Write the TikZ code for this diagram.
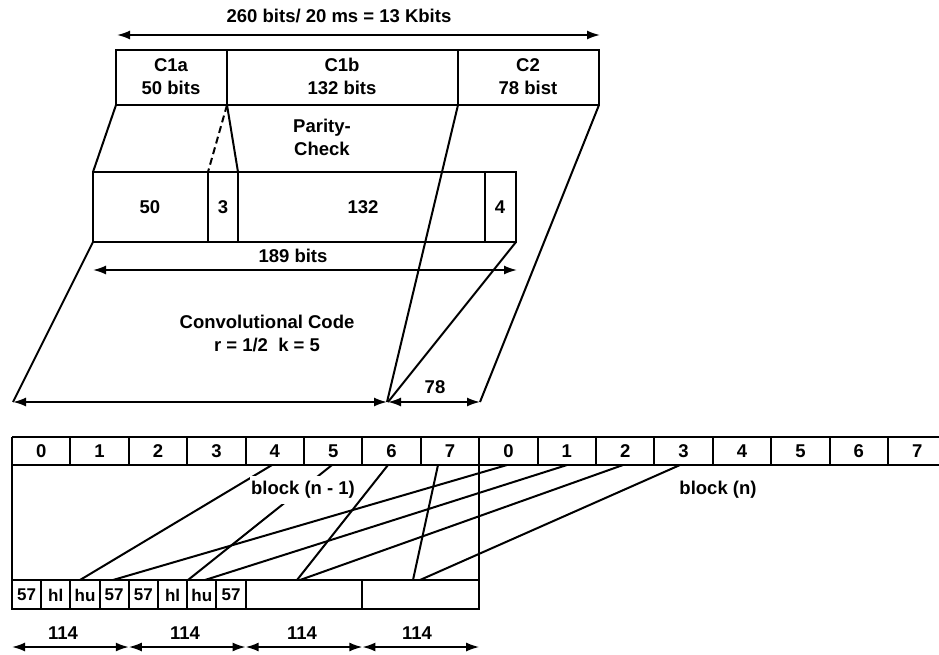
\documentclass[tikz,border=0pt]{standalone}
\usepackage{fontspec}
\setmainfont{Liberation Sans}
\usetikzlibrary{arrows.meta}
\begin{document}
\begin{tikzpicture}[x=1pt,y=-1pt, line width=2pt,
  lbl/.style={font=\fontsize{18.5}{23}\selectfont\bfseries, inner sep=1pt, align=center},
  small/.style={font=\fontsize{17}{18}\selectfont\bfseries, inner sep=0pt},
  dimarrow/.style={{Latex[length=13pt,width=9pt]}-{Latex[length=13pt,width=9pt]}, line width=1.8pt}]
\useasboundingbox (0,0) rectangle (939,654);
% ---- top frame ----
\coordinate (tA) at (117,35); \coordinate (tB) at (600,35);
\draw[dimarrow] (tA) -- (tB);
\node[lbl] (ttl) at (339,16) {260 bits/ 20 ms = 13 Kbits};
\coordinate (f1) at (116,50); \coordinate (f2) at (599,105);
\draw (f1) rectangle (f2);
\coordinate (fa) at (227,105); \coordinate (fb) at (458,105);
\draw (227,50) -- (fa); \draw (458,50) -- (fb);
\node[lbl] (c1a) at (171,78) {\strut C1a\\\strut 50 bits};
\node[lbl] (c1b) at (342,78) {\strut C1b\\\strut 132 bits};
\node[lbl] (c2) at (528,78) {\strut C2\\\strut 78 bist};
% ---- parity box ----
\coordinate (m1) at (93,172); \coordinate (m2) at (516,242);
\draw (m1) rectangle (m2);
\draw (208,172) -- (208,242); \draw (238,172) -- (238,242); \draw (485,172) -- (485,242);
\node[lbl] (p50) at (150,207) {50};
\node[lbl] (p3) at (223,207) {3};
\node[lbl] (p132) at (363,207) {132};
\node[lbl] (p4) at (500,207) {4};
\node[lbl] (par) at (322,137) {Parity-\\Check};
% ---- slanted connectors ----
\coordinate (fL) at (116,105);
\coordinate (mTL) at (93,172); \coordinate (mD) at (208,172); \coordinate (mE) at (238,172);
\coordinate (mBL) at (93,242); \coordinate (mBR) at (516,242);
\coordinate (fR) at (599,105);
\coordinate (bL) at (13,402); \coordinate (bM) at (387,402); \coordinate (bM2) at (388,402); \coordinate (bR) at (480,402);
\draw (fL) -- (mTL);
\draw[dash pattern=on 7pt off 4pt] (fa) -- (mD);
\draw (fa) -- (mE);
\draw (fb) -- (bM);
\draw (fR) -- (bR);
\draw (mBL) -- (bL);
\draw (mBR) -- (bM2);
% ---- dimension arrows ----
\coordinate (d1) at (93,270); \coordinate (d2) at (517,270);
\draw[dimarrow] (d1) -- (d2);
\node[lbl] (b189) at (293,256) {189 bits};
\draw[dimarrow] (bL) -- (bM);
\draw[dimarrow] (bM2) -- (bR);
\node[lbl] (l78) at (435,387) {78};
\node[lbl] (conv) at (267,333) {Convolutional Code\\r = 1/2\ \ k = 5};
% ---- interleaving grid ----
\draw (12,437) -- (939,437);
\draw (12,465) -- (939,465);
\foreach \i in {0,...,15} \draw (12+58.4*\i,437) -- (12+58.4*\i,465);
\foreach \i in {0,...,15} {
  \pgfmathtruncatemacro{\k}{mod(\i,8)}
  \node[lbl] (n\i) at (41.2+58.4*\i,451) {\k};
}
\draw (12,465) -- (12,609) -- (479.2,609) -- (479.2,465);
\draw (12,580) -- (479.2,580);
\foreach \i in {1,...,8} \draw (12+29.2*\i,580) -- (12+29.2*\i,609);
\draw (362.4,580) -- (362.4,609);
\foreach \t [count=\i from 0] in {57,hl,hu,57,57,hl,hu,57}
  \node[small] (s\i) at (26.6+29.2*\i,595) {\t};
% ---- interleave lines ----
\draw (272,465) -- (80,580);
\draw (332,465) -- (188,580);
\node[lbl, fill=white, inner ysep=5pt] (bn1) at (303,490) {block (n - 1)};
\draw (388,465) -- (297,580);
\draw (438,465) -- (413,580);
\draw (507,465) -- (113,580);
\draw (567,465) -- (205,580);
\draw (623,465) -- (300,580);
\draw (680,465) -- (420,580);
\node[lbl] (bn) at (718,490) {block (n)};
% ---- bottom 114 arrows ----
\coordinate (q0) at (12,647); \coordinate (q1) at (128.8,647);
\coordinate (q2) at (245.6,647); \coordinate (q3) at (362.4,647); \coordinate (q4) at (479.2,647);
\draw[dimarrow] (q0) -- (q1);
\draw[dimarrow] (q1) -- (q2);
\draw[dimarrow] (q2) -- (q3);
\draw[dimarrow] (q3) -- (q4);
\node[lbl] (w1) at (63,633) {114};
\node[lbl] (w2) at (185,633) {114};
\node[lbl] (w3) at (302,633) {114};
\node[lbl] (w4) at (417,633) {114};
\end{tikzpicture}
\end{document}
